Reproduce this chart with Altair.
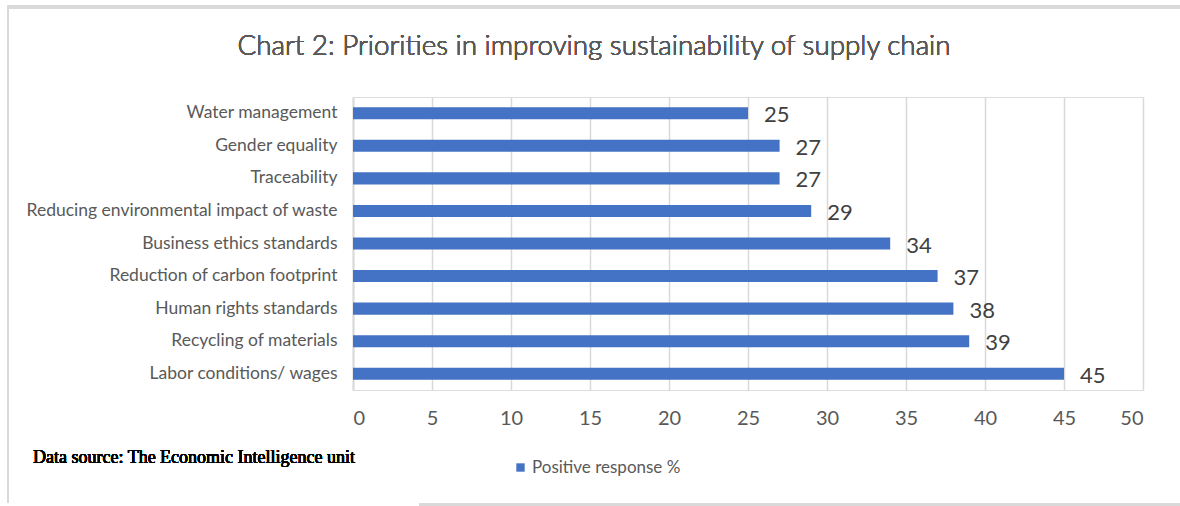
import altair as alt
import pandas as pd

categories = [
    "Water management",
    "Gender equality",
    "Traceability",
    "Reducing environmental impact of waste",
    "Business ethics standards",
    "Reduction of carbon footprint",
    "Human rights standards",
    "Recycling of materials",
    "Labor conditions/ wages",
]
values = [25, 27, 27, 29, 34, 37, 38, 39, 45]
series_name = "Positive response %"
title_text = "Chart 2: Priorities in improving sustainability of supply chain"
source_text = "Data source: The Economic Intelligence unit"

df = pd.DataFrame({"category": categories, "value": values, "series": series_name})

PL, PT = 353, 97
W, H = 790, 293
SANS = "Lato"

y_enc = alt.Y(
    "category:N",
    sort=categories,
    title=None,
    scale=alt.Scale(paddingInner=0.63, paddingOuter=0.315),
    axis=alt.Axis(
        labelFont=SANS,
        labelFontSize=17.5,
        labelColor="#595959",
        labelPadding=16,
        ticks=False,
        domain=True,
        domainColor="#d9d9d9",
        domainWidth=2,
        grid=False,
        labelLimit=400,
    ),
)
x_enc = alt.X(
    "value:Q",
    title=None,
    scale=alt.Scale(domain=[0, 50], nice=False),
    axis=alt.Axis(
        values=[0, 5, 10, 15, 20, 25, 30, 35, 40, 45, 50],
        labelFont=SANS,
        labelFontSize=20,
        labelColor="#595959",
        labelPadding=18,
        ticks=False,
        domain=False,
        grid=True,
        gridColor="#d9d9d9",
        gridWidth=1.5,
    ),
)

bars = alt.Chart(df).mark_bar(color="#4472C4").encode(
    x=x_enc,
    y=y_enc,
    color=alt.Color(
        "series:N",
        scale=alt.Scale(range=["#4472C4"]),
        legend=alt.Legend(
            title=None,
            orient="none",
            legendX=516 - PL - 4,
            legendY=468 - PT - 9,
            symbolType="square",
            symbolSize=70,
            symbolStrokeWidth=0,
            labelFont=SANS,
            labelFontSize=17,
            labelColor="#595959",
            labelOffset=3,
            padding=0,
        ),
    ),
)

labels = alt.Chart(df).mark_text(
    align="left", baseline="middle", dx=16, dy=2,
    font=SANS, fontSize=22, color="#404040",
).encode(
    x="value:Q",
    y=alt.Y("category:N", sort=categories),
    text="value:Q",
)

title = alt.Chart(df).mark_text(
    align="center", baseline="middle", font=SANS, fontSize=27.8, fontWeight=300, color="#595959",
).encode(x=alt.value(594 - PL), y=alt.value(47 - PT), text=alt.value(title_text))

source = alt.Chart(df).mark_text(
    align="left", baseline="middle", font="Liberation Serif", fontSize=18, fontWeight="normal", color="#000000",
).encode(x=alt.value(33 - PL), y=alt.value(458 - PT), text=alt.value(source_text))

border_color = "#d9d9d9"
top_line = alt.Chart(df).mark_rule(color=border_color, strokeWidth=3).encode(
    x=alt.value(7 - PL), x2=alt.value(1180 - PL), y=alt.value(7 - PT)
)
left_line = alt.Chart(df).mark_rule(color=border_color, strokeWidth=2).encode(
    x=alt.value(8 - PL), y=alt.value(7 - PT), y2=alt.value(503 - PT)
)
bottom_line = alt.Chart(df).mark_rule(color=border_color, strokeWidth=3).encode(
    x=alt.value(419 - PL), x2=alt.value(1180 - PL), y=alt.value(505 - PT)
)

chart = alt.layer(top_line, left_line, bottom_line, bars, labels, title, source).properties(
    width=W,
    height=H,
    autosize=alt.AutoSizeParams(type="none"),
    padding={"left": PL, "top": PT, "right": 1180 - PL - W, "bottom": 506 - PT - H},
).configure_view(stroke=None).configure(background="white")

chart.save("out.html", embed_options={"renderer": "svg", "actions": False})
